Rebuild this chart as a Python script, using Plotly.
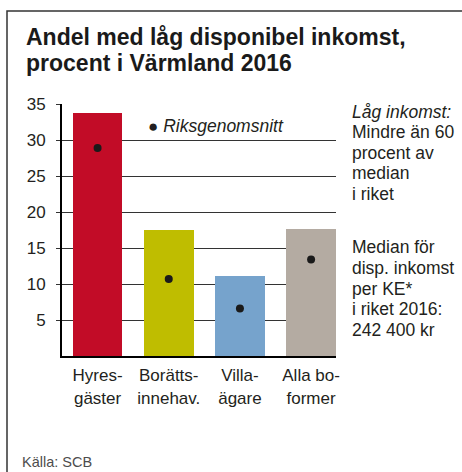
import plotly.graph_objects as go

# data
categories = ["Hyresgäster", "Bostadsrätt", "Villa", "Alla"]
category_labels = ["Hyres-<br>gäster", "Borätts-<br>innehav.", "Villa-<br>ägare", "Alla bo-<br>former"]
varmland = [33.8, 17.5, 11.1, 17.6]
riksgenomsnitt = [28.9, 10.7, 6.6, 13.4]
bar_colors = ["#c20c27", "#bfbd00", "#76a3cc", "#b4aba2"]
y_ticks = [5, 10, 15, 20, 25, 30, 35]

title_lines = ["Andel med låg disponibel inkomst,", "procent i Värmland 2016"]
note_lines = ["<i>Låg inkomst:</i>", "Mindre än 60", "procent av", "median", "i riket",
              "", "Median för", "disp. inkomst", "per KE*", "i riket 2016:", "242 400 kr"]
source = "Källa: SCB"

W, H = 462, 472
L, R, T, B = 62, 126, 104, 116
PW, PH = W - L - R, H - T - B
FONT = "Liberation Sans, Arial, Helvetica, sans-serif"
TEXT = "#231f20"


def px(x):
    return (x - L) / PW


def py(y):
    return (H - B - y) / PH


x_pos = list(range(len(categories)))

fig = go.Figure()
fig.add_trace(go.Bar(
    x=x_pos, y=varmland, width=0.7,
    marker=dict(color=bar_colors, line=dict(width=0)),
    showlegend=False, hoverinfo="y",
))
fig.add_trace(go.Scatter(
    x=x_pos, y=riksgenomsnitt, mode="markers",
    marker=dict(color="#1a1a1a", size=8),
    showlegend=False, hoverinfo="y",
))

annotations = []
for i, line in enumerate(title_lines):
    annotations.append(dict(
        text=f"<b>{line}</b>", x=px(24), y=py(37 + 26 * i),
        xanchor="left", yanchor="middle",
        font=dict(size=23, color="#1a1a1a", family=FONT),
    ))
for i, line in enumerate(note_lines):
    if not line:
        continue
    yc = 112 + 20.4 * i if i < 5 else 247 + 20.8 * (i - 6)
    annotations.append(dict(
        text=line, x=px(350), y=py(yc), xanchor="left", yanchor="middle",
        font=dict(size=17.5, color=TEXT, family=FONT),
    ))
annotations.append(dict(
    text="<span style='font-size:17px'>●</span> <i>Riksgenomsnitt</i>",
    x=px(146), y=py(126), xanchor="left", yanchor="middle",
    font=dict(size=17.5, color=TEXT, family=FONT),
))
annotations.append(dict(
    text=source, x=px(20), y=py(462), xanchor="left", yanchor="middle",
    font=dict(size=14.5, color="#4d4d4d", family=FONT),
))
for a in annotations:
    a.update(xref="paper", yref="paper", showarrow=False)

fig.update_layout(
    width=W, height=H,
    margin=dict(l=L, r=R, t=T, b=B, pad=0),
    paper_bgcolor="white", plot_bgcolor="white",
    font=dict(family=FONT, color=TEXT),
    bargap=0,
    annotations=annotations,
    shapes=[dict(
        type="rect", xref="paper", yref="paper",
        x0=px(7), x1=px(W + 20), y0=py(H + 20), y1=py(11),
        line=dict(color="#333333", width=1.5), layer="above",
    )],
    xaxis=dict(
        range=[-0.5, 3.35], tickvals=x_pos, ticktext=category_labels,
        showgrid=False, zeroline=False, ticks="",
        showline=True, linecolor="black", linewidth=2,
        tickfont=dict(size=17, color=TEXT), ticklabelstandoff=3,
        fixedrange=True,
    ),
    yaxis=dict(
        range=[0, 35], tickvals=y_ticks,
        showgrid=True, gridcolor="#333333", gridwidth=1,
        zeroline=False, showline=True, linecolor="black", linewidth=2,
        ticks="outside", ticklen=4, tickcolor="#333333", tickwidth=1,
        tickfont=dict(size=17, color=TEXT), ticklabelstandoff=7,
        fixedrange=True,
    ),
)

# page has a default 8px body margin; drop it so the figure sits at the corner
fig.write_html(
    "out.html",
    config={"displayModeBar": False},
    post_script="document.body.style.margin='0';document.body.style.overflow='hidden';",
)
